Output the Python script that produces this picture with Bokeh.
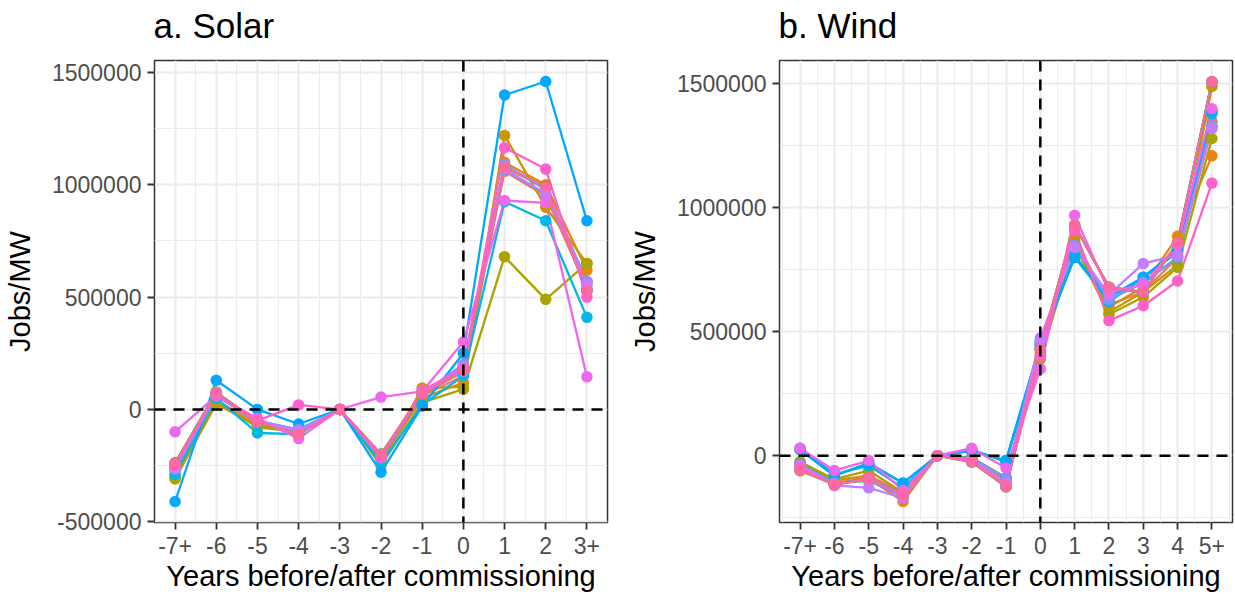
from bokeh.plotting import figure
from bokeh.layouts import row
from bokeh.models import FixedTicker, Span, Range1d, Title
from bokeh.embed import file_html
from bokeh.resources import INLINE

# ---------------- data ----------------
solar_labels = ["-7+", "-6", "-5", "-4", "-3", "-2", "-1", "0", "1", "2", "3+"]
wind_labels = ["-7+", "-6", "-5", "-4", "-3", "-2", "-1", "0", "1", "2", "3", "4", "5+"]

series_colors = ["#F8766D", "#E68613", "#CD9600", "#ABA300", "#7CAE00", "#0CB702",
                 "#00BE67", "#00C19A", "#00BFC4", "#00B8E7", "#00A9FF", "#8494FF",
                 "#C77CFF", "#ED68ED", "#FF61CC", "#FF68A1"]

solar_01 = [-270000, 40000, -60000, -100000, 0, -220000, 60000, 150000, 1060000, 950000, 540000]
solar_02 = [-300000, 30000, -70000, -95000, 0, -230000, 50000, 120000, 1100000, 1000000, 620000]
solar_03 = [-310000, 25000, -75000, -90000, 0, -240000, 95000, 100000, 1220000, 900000, 650000]
solar_04 = [-305000, 35000, -80000, -100000, 0, -250000, 30000, 90000, 680000, 490000, 650000]
solar_05 = [-242000, 74000, -56000, -108000, 0, -202000, 69000, 168000, 1078000, 988000, 528000]
solar_06 = [-238000, 76000, -54000, -111000, 0, -199000, 71000, 171000, 1081000, 991000, 531000]
solar_07 = [-241000, 75000, -55000, -110000, 0, -201000, 70000, 169000, 1079000, 989000, 529000]
solar_08 = [-261000, 60000, -51000, -91000, 0, -211000, 69000, 199000, 1089000, 979000, 569000]
solar_09 = [-266000, 64000, -56000, -96000, 0, -216000, 74000, 189000, 1069000, 959000, 559000]
solar_10 = [-290000, 50000, -105000, -110000, 0, -240000, 20000, 150000, 925000, 840000, 410000]
solar_11 = [-410000, 130000, 0, -65000, 0, -280000, 15000, 250000, 1400000, 1460000, 840000]
solar_12 = [-260000, 60000, -50000, -90000, 0, -210000, 70000, 200000, 1090000, 980000, 570000]
solar_13 = [-265000, 65000, -55000, -95000, 0, -215000, 75000, 190000, 1070000, 960000, 560000]
solar_14 = [-100000, 60000, -40000, -130000, 0, 55000, 80000, 300000, 930000, 920000, 145000]
solar_15 = [-250000, 70000, -50000, 20000, 0, -210000, 85000, 180000, 1165000, 1070000, 500000]
solar_16 = [-240000, 75000, -55000, -110000, 0, -200000, 70000, 170000, 1080000, 990000, 530000]

wind_01 = [-30000, -100000, -80000, -150000, 0, -10000, -100000, 420000, 880000, 610000, 660000, 800000, 1350000]
wind_02 = [-40000, -110000, -90000, -185000, 0, -15000, -110000, 410000, 870000, 600000, 680000, 885000, 1210000]
wind_03 = [-35000, -100000, -85000, -165000, 0, -12000, -95000, 400000, 860000, 580000, 660000, 770000, 1490000]
wind_04 = [-25000, -95000, -60000, -150000, 0, -8000, -90000, 390000, 850000, 570000, 640000, 760000, 1280000]
wind_05 = [-61000, -116000, -96000, -156000, 0, -26000, -126000, 431000, 931000, 681000, 661000, 861000, 1508000]
wind_06 = [-34000, -111000, -101000, -164000, 0, -9000, -89000, 461000, 849000, 629000, 699000, 799000, 1329000]
wind_07 = [-59000, -114000, -94000, -154000, 0, -24000, -124000, 429000, 929000, 679000, 659000, 859000, 1509000]
wind_08 = [-59000, -114000, -94000, -154000, 0, -24000, -124000, 429000, 929000, 679000, 659000, 859000, 1509000]
wind_09 = [24000, -81000, -31000, -111000, 0, 19000, -21000, 449000, 801000, 625000, 719000, 829000, 1389000]
wind_10 = [30000, -75000, -40000, -130000, 0, 25000, -25000, 440000, 810000, 620000, 720000, 820000, 1380000]
wind_11 = [25000, -80000, -30000, -110000, 0, 20000, -20000, 450000, 800000, 640000, 720000, 830000, 1390000]
wind_12 = [-35000, -110000, -100000, -165000, 0, -10000, -90000, 460000, 850000, 630000, 700000, 800000, 1330000]
wind_13 = [-40000, -120000, -130000, -170000, 0, -15000, -110000, 475000, 840000, 650000, 775000, 810000, 1320000]
wind_14 = [30000, -60000, -20000, -140000, 0, 30000, -50000, 350000, 970000, 660000, 690000, 850000, 1400000]
wind_15 = [-50000, -120000, -90000, -160000, 0, -20000, -120000, 400000, 910000, 545000, 605000, 705000, 1100000]
wind_16 = [-60000, -115000, -95000, -155000, 0, -25000, -125000, 430000, 930000, 680000, 660000, 860000, 1510000]

solar_series = [solar_01, solar_02, solar_03, solar_04, solar_05, solar_06, solar_07, solar_08,
                solar_09, solar_10, solar_11, solar_12, solar_13, solar_14, solar_15, solar_16]
wind_series = [wind_01, wind_02, wind_03, wind_04, wind_05, wind_06, wind_07, wind_08,
               wind_09, wind_10, wind_11, wind_12, wind_13, wind_14, wind_15, wind_16]

y_ticks_solar = [-500000, 0, 500000, 1000000, 1500000]
y_ticks_wind = [0, 500000, 1000000, 1500000]
y_minor = [-750000, -250000, 250000, 750000, 1250000, 1750000]

FONT = "Liberation Sans"
FW = 457


def make_panel(title, labels, series, yticks, border_right):
    n = len(labels)
    xs = list(range(n))
    allv = [v for s in series for v in s]
    lo, hi = min(allv), max(allv)
    pad = 0.05 * (hi - lo)
    xpad = 0.05 * (n - 1)
    p = figure(width=150 + FW + border_right, height=594, output_backend="svg",
               toolbar_location=None, title=None,
               x_range=Range1d(-xpad, n - 1 + xpad), y_range=Range1d(lo - pad, hi + pad),
               min_border_left=150, min_border_right=border_right,
               min_border_top=60, min_border_bottom=70)
    p.background_fill_color = "white"
    p.border_fill_color = "white"
    p.outline_line_color = "#333333"
    p.outline_line_width = 1.5

    # spacer next to the frame, then the real title above it
    p.add_layout(Title(text=" ", text_font_size="1px", standoff=13), "above")
    p.add_layout(Title(text=title, text_font=FONT, text_font_size="35px",
                       text_font_style="normal", text_color="black",
                       align="left", offset=-1, standoff=0), "above")

    # x axis
    p.xaxis.ticker = FixedTicker(ticks=xs, minor_ticks=[i - 0.5 for i in range(n + 1)])
    p.xaxis.major_label_overrides = {i: lab for i, lab in enumerate(labels)}
    p.xaxis.axis_label = "Years before/after commissioning"
    # y axis
    p.yaxis.ticker = FixedTicker(ticks=yticks, minor_ticks=y_minor)
    p.yaxis.major_label_overrides = {t: str(t) for t in yticks}
    p.yaxis.axis_label = "Jobs/MW"

    for ax in (p.xaxis[0], p.yaxis[0]):
        ax.axis_line_color = None
        ax.major_tick_in = 0
        ax.major_tick_out = 7
        ax.major_tick_line_color = "#333333"
        ax.major_tick_line_width = 1.8
        ax.minor_tick_line_color = None
        ax.major_label_text_font = FONT
        ax.major_label_text_font_size = "23px"
        ax.major_label_text_color = "#4D4D4D"
        ax.axis_label_text_font = FONT
        ax.axis_label_text_font_size = "29px"
        ax.axis_label_text_font_style = "normal"
        ax.axis_label_text_color = "black"
    p.xaxis.major_label_standoff = 7
    p.xaxis.axis_label_standoff = 3
    p.yaxis.major_label_standoff = 6
    p.yaxis.axis_label_standoff = 13

    for g in (p.xgrid[0], p.ygrid[0]):
        g.grid_line_color = "#EBEBEB"
        g.grid_line_width = 2
        g.minor_grid_line_color = "#EBEBEB"
        g.minor_grid_line_width = 1

    for s, c in zip(series, series_colors):
        p.line(xs, s, line_color=c, line_width=2.3)
    for s, c in zip(series, series_colors):
        p.scatter(xs, s, size=11.5, fill_color=c, line_color=c, line_width=0)

    zero_idx = labels.index("0")
    p.add_layout(Span(location=0, dimension="width", line_color="black",
                      line_width=2.5, line_dash="11 8"))
    p.add_layout(Span(location=zero_idx, dimension="height", line_color="black",
                      line_width=2.5, line_dash="11 8"))
    return p


p1 = make_panel("a. Solar", solar_labels, solar_series, y_ticks_solar, 18)
p2 = make_panel("b. Wind", wind_labels, wind_series, y_ticks_wind, 3)

layout = row(p1, p2)
open("out.html", "w").write(file_html(layout, INLINE))
